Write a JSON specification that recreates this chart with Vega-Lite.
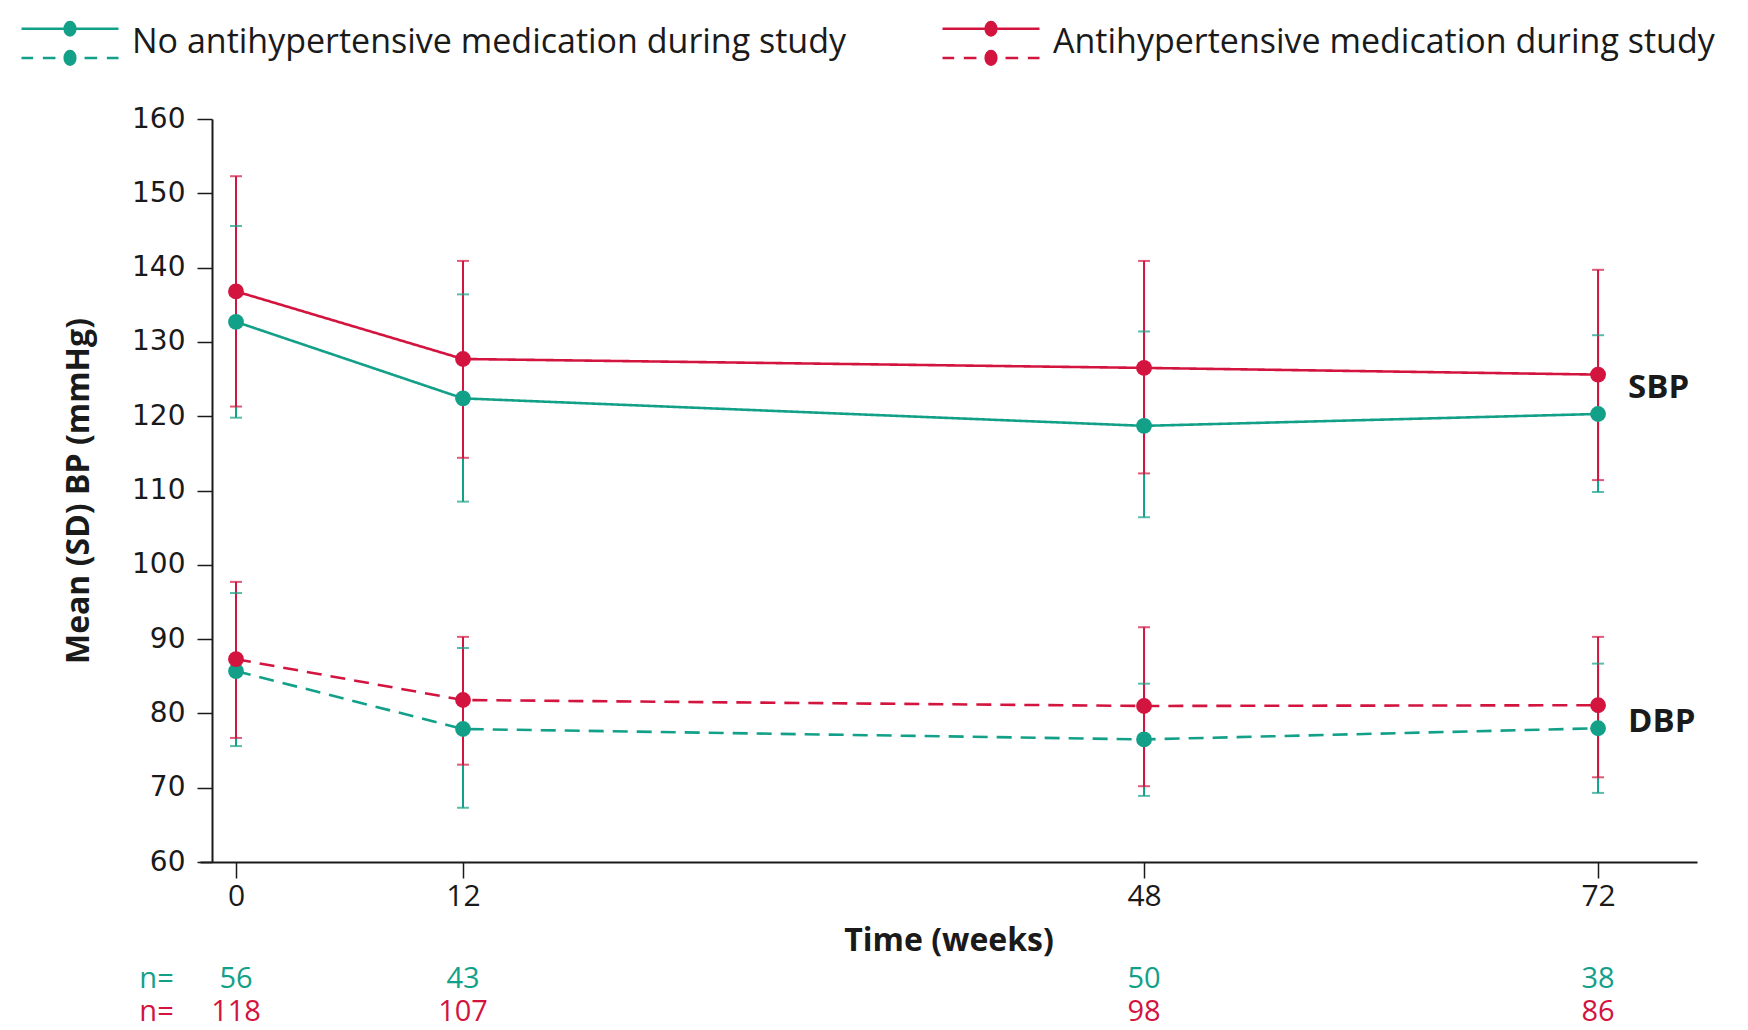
{
  "$schema": "https://vega.github.io/schema/vega-lite/v6.json",
  "autosize": {"type": "none"},
  "width": 1497,
  "height": 743,
  "padding": {"left": 200, "top": 119, "right": 51, "bottom": 168},
  "background": "white",
  "config": {
    "view": {"stroke": null},
    "font": "Open Sans",
    "axis": {"grid": false, "domainColor": "#1a1a1a", "tickColor": "#1a1a1a", "labelColor": "#1a1a1a", "titleColor": "#1a1a1a", "domainWidth": 2, "tickWidth": 1.5}
  },
  "datasets": {
    "bp": [
      {"week": 0, "value": 132.7, "lo": 119.8, "hi": 145.6, "group": "No antihypertensive medication during study", "measure": "SBP"},
      {"week": 12, "value": 122.4, "lo": 108.5, "hi": 136.4, "group": "No antihypertensive medication during study", "measure": "SBP"},
      {"week": 48, "value": 118.7, "lo": 106.4, "hi": 131.4, "group": "No antihypertensive medication during study", "measure": "SBP"},
      {"week": 72, "value": 120.3, "lo": 109.8, "hi": 130.9, "group": "No antihypertensive medication during study", "measure": "SBP"},
      {"week": 0, "value": 85.7, "lo": 75.6, "hi": 96.2, "group": "No antihypertensive medication during study", "measure": "DBP"},
      {"week": 12, "value": 77.9, "lo": 67.3, "hi": 88.8, "group": "No antihypertensive medication during study", "measure": "DBP"},
      {"week": 48, "value": 76.5, "lo": 68.9, "hi": 84.0, "group": "No antihypertensive medication during study", "measure": "DBP"},
      {"week": 72, "value": 78.0, "lo": 69.3, "hi": 86.7, "group": "No antihypertensive medication during study", "measure": "DBP"},
      {"week": 0, "value": 136.8, "lo": 121.3, "hi": 152.3, "group": "Antihypertensive medication during study", "measure": "SBP"},
      {"week": 12, "value": 127.7, "lo": 114.4, "hi": 140.9, "group": "Antihypertensive medication during study", "measure": "SBP"},
      {"week": 48, "value": 126.5, "lo": 112.3, "hi": 140.9, "group": "Antihypertensive medication during study", "measure": "SBP"},
      {"week": 72, "value": 125.6, "lo": 111.4, "hi": 139.7, "group": "Antihypertensive medication during study", "measure": "SBP"},
      {"week": 0, "value": 87.3, "lo": 76.7, "hi": 97.7, "group": "Antihypertensive medication during study", "measure": "DBP"},
      {"week": 12, "value": 81.8, "lo": 73.1, "hi": 90.3, "group": "Antihypertensive medication during study", "measure": "DBP"},
      {"week": 48, "value": 81.0, "lo": 70.2, "hi": 91.6, "group": "Antihypertensive medication during study", "measure": "DBP"},
      {"week": 72, "value": 81.1, "lo": 71.4, "hi": 90.3, "group": "Antihypertensive medication during study", "measure": "DBP"}
    ],
    "labels": [
      {"week": 72, "value": 123.8, "text": "SBP"},
      {"week": 72, "value": 78.8, "text": "DBP"}
    ],
    "counts": [
      {"week": -4.2, "row": "a", "text": "n=", "group": "No antihypertensive medication during study"},
      {"week": 0, "row": "a", "text": "56", "group": "No antihypertensive medication during study"},
      {"week": 12, "row": "a", "text": "43", "group": "No antihypertensive medication during study"},
      {"week": 48, "row": "a", "text": "50", "group": "No antihypertensive medication during study"},
      {"week": 72, "row": "a", "text": "38", "group": "No antihypertensive medication during study"},
      {"week": -4.2, "row": "b", "text": "n=", "group": "Antihypertensive medication during study"},
      {"week": 0, "row": "b", "text": "118", "group": "Antihypertensive medication during study"},
      {"week": 12, "row": "b", "text": "107", "group": "Antihypertensive medication during study"},
      {"week": 48, "row": "b", "text": "98", "group": "Antihypertensive medication during study"},
      {"week": 72, "row": "b", "text": "86", "group": "Antihypertensive medication during study"}
    ]
  },
  "layer": [
    {
      "encoding": {
        "x": {"field": "week", "type": "quantitative", "scale": {"domain": [-1.903, 77.23], "nice": false, "zero": false},
          "axis": {"values": [0, 12, 48, 72], "tickSize": 16, "labelFont": "Open Sans", "labelFontSize": 30, "labelPadding": 3, "title": "Time (weeks)", "titleFont": "Open Sans", "titleFontSize": 32, "titleFontWeight": "bold", "titlePadding": 14}}
      },
      "layer": [
        {
          "data": {"name": "bp"},
          "mark": {"type": "rule", "strokeWidth": 2},
          "encoding": {
            "y": {"field": "lo", "type": "quantitative", "scale": {"domain": [60, 160], "nice": false, "zero": false},
              "axis": {"values": [60, 70, 80, 90, 100, 110, 120, 130, 140, 150, 160], "offset": -12, "tickSize": 15, "labelFont": "DejaVu Sans", "labelFontSize": 28, "labelPadding": 12, "title": "Mean (SD) BP (mmHg)", "titleFont": "Open Sans", "titleFontSize": 32, "titleFontWeight": "bold", "titlePadding": 36}},
            "y2": {"field": "hi"},
            "color": {"field": "group", "type": "nominal", "scale": {"domain": ["No antihypertensive medication during study", "Antihypertensive medication during study"], "range": ["#13a088", "#d2143f"]}}
          }
        },
        {
          "data": {"name": "bp"},
          "mark": {"type": "tick", "orient": "horizontal", "size": 12, "thickness": 2},
          "encoding": {"y": {"field": "lo", "type": "quantitative"}, "color": {"field": "group", "type": "nominal"}}
        },
        {
          "data": {"name": "bp"},
          "mark": {"type": "tick", "orient": "horizontal", "size": 12, "thickness": 2},
          "encoding": {"y": {"field": "hi", "type": "quantitative"}, "color": {"field": "group", "type": "nominal"}}
        },
        {
          "data": {"name": "bp"},
          "mark": {"type": "line", "strokeWidth": 2.6},
          "encoding": {
            "y": {"field": "value", "type": "quantitative"},
            "strokeDash": {"field": "measure", "type": "nominal", "scale": {"domain": ["SBP", "DBP"], "range": [[1, 0], [15, 9]]}, "legend": null},
            "color": {"field": "group", "type": "nominal",
              "legend": {
                "orient": "none", "legendX": -180, "legendY": -126, "direction": "horizontal", "title": null, "padding": 0,
                "symbolType": "M-1,-0.3L1,-0.3M-1,0.3L-0.76,0.3M-0.56,0.3L-0.3,0.3M0.3,0.3L0.56,0.3M0.76,0.3L1,0.3M0.11,-0.3A0.11,0.14,0,1,1,-0.11,-0.3A0.11,0.14,0,1,1,0.11,-0.3ZM0.11,0.3A0.11,0.14,0,1,1,-0.11,0.3A0.11,0.14,0,1,1,0.11,0.3Z",
                "symbolSize": 9409, "symbolStrokeWidth": 2.5, "symbolOpacity": 1,
                "labelFont": "Open Sans", "labelFontSize": 34, "labelColor": "#1a1a1a", "labelOffset": 12, "labelLimit": 1000,
                "columnPadding": 90,
                "encode": {"symbols": {"update": {"fill": {"scale": "color", "field": "value"}, "stroke": {"scale": "color", "field": "value"}}}}
              }
            }
          }
        },
        {
          "data": {"name": "bp"},
          "mark": {"type": "point", "filled": true, "size": 250, "opacity": 1},
          "encoding": {"y": {"field": "value", "type": "quantitative"}, "color": {"field": "group", "type": "nominal"}}
        },
        {
          "data": {"name": "labels"},
          "mark": {"type": "text", "align": "left", "baseline": "middle", "dx": 30, "font": "Open Sans", "fontSize": 33, "fontWeight": "bold"},
          "encoding": {
            "y": {"field": "value", "type": "quantitative"},
            "text": {"field": "text"},
            "color": {"value": "#1a1a1a"}
          }
        }
      ]
    },
    {
      "data": {"name": "counts"},
      "mark": {"type": "text", "align": "center", "baseline": "middle", "font": "Open Sans", "fontSize": 29},
      "encoding": {
        "x": {"field": "week", "type": "quantitative"},
        "y": {"field": "row", "type": "nominal", "scale": {"type": "point", "domain": ["a", "b"], "range": [860, 893], "padding": 0}, "axis": null},
        "text": {"field": "text"},
        "color": {"field": "group", "type": "nominal"}
      }
    }
  ],
  "resolve": {"scale": {"y": "independent"}}
}
